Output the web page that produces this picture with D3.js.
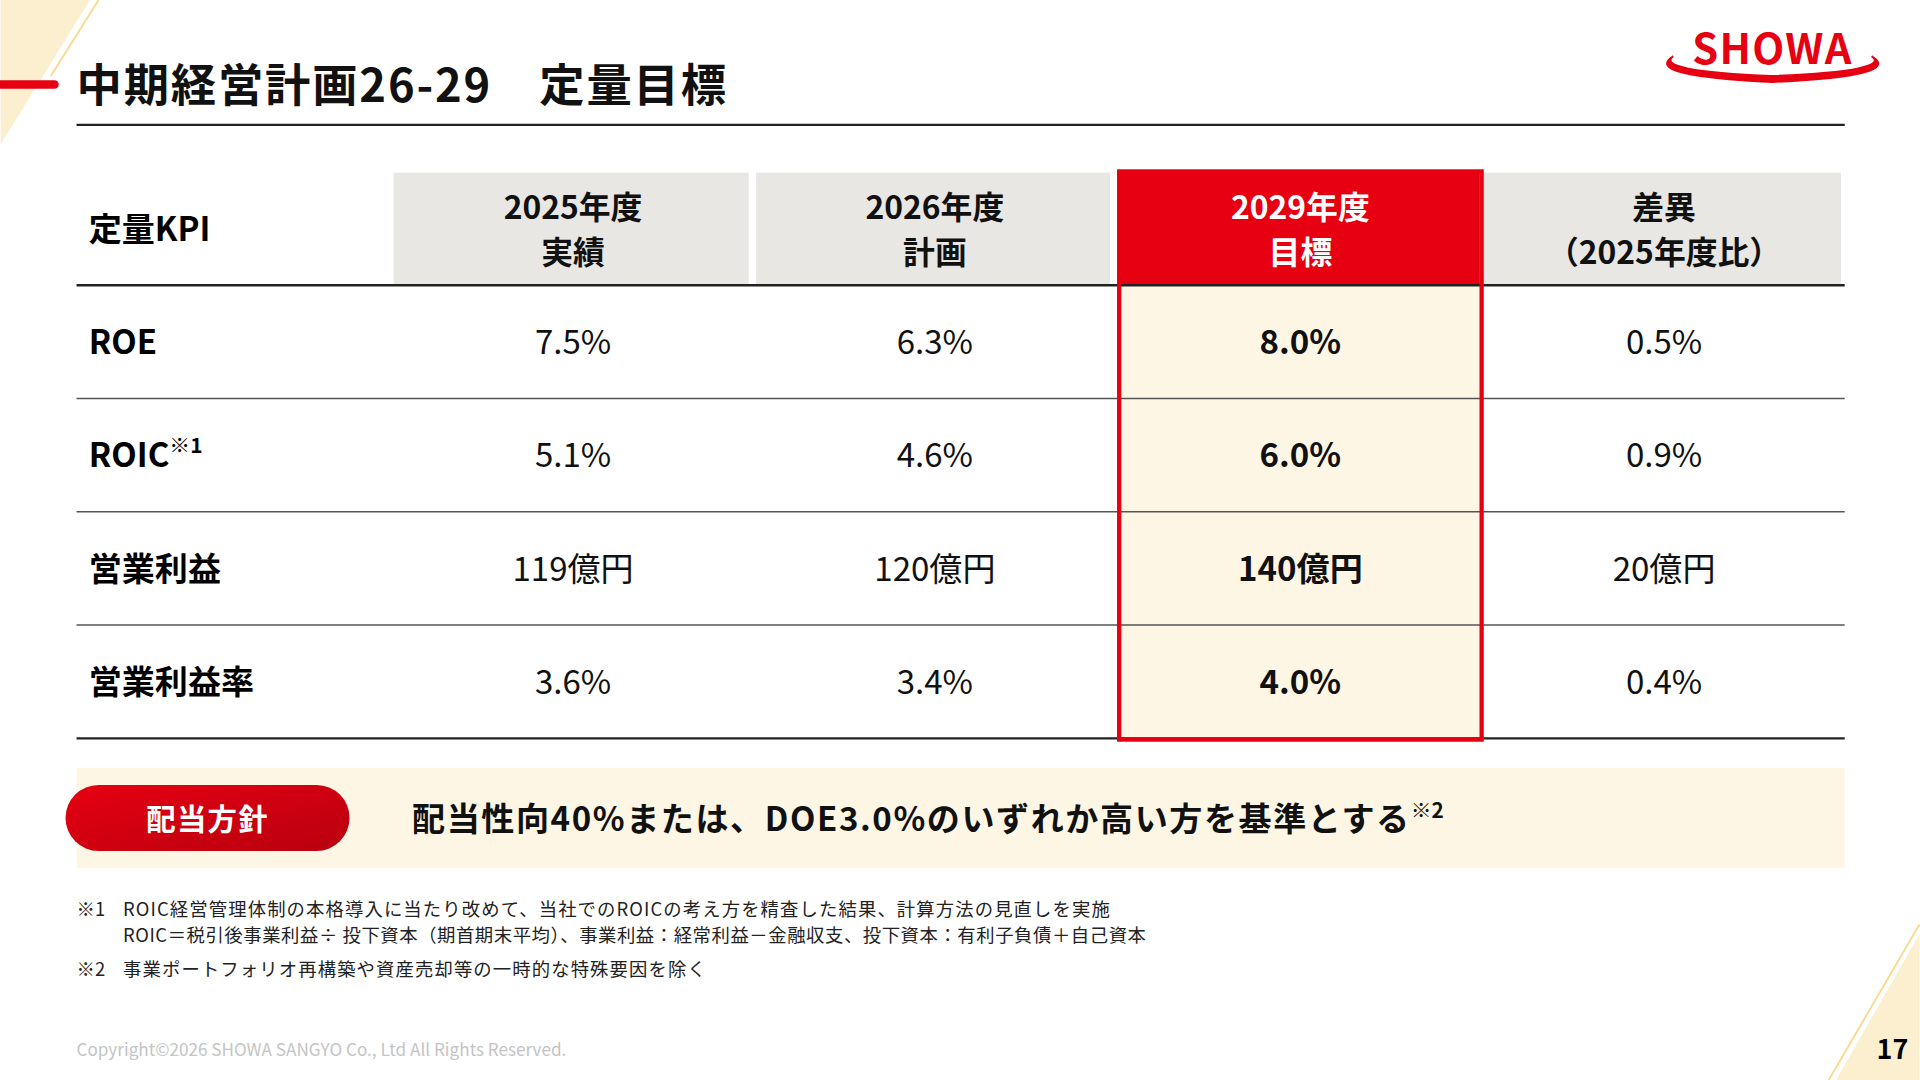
<!DOCTYPE html>
<html><head><meta charset="utf-8">
<script src="https://cdn.jsdelivr.net/npm/d3@7"></script>
<style>body{margin:0;background:#fff}svg{display:block}text{font-family:"Noto Sans CJK JP","Noto Sans",sans-serif}</style>
</head><body>
<div id="chart"></div>
<script>
// table data
var kpis = ["ROE", "ROIC", "営業利益", "営業利益率"];
var headers = [["2025年度", "実績"], ["2026年度", "計画"], ["2029年度", "目標"], ["差異", "（2025年度比）"]];
var actual2025 = ["7.5%", "5.1%", "119億円", "3.6%"];
var plan2026 = ["6.3%", "4.6%", "120億円", "3.4%"];
var target2029 = ["8.0%", "6.0%", "140億円", "4.0%"];
var diff = ["0.5%", "0.9%", "20億円", "0.4%"];
var columns = [actual2025, plan2026, target2029, diff];
var footnotes = [
  ["※1", "ROIC経営管理体制の本格導入に当たり改めて、当社でのROICの考え方を精査した結果、計算方法の見直しを実施"],
  ["", "ROIC＝税引後事業利益÷ 投下資本（期首期末平均）、事業利益：経常利益－金融収支、投下資本：有利子負債＋自己資本"],
  ["※2", "事業ポートフォリオ再構築や資産売却等の一時的な特殊要因を除く"]
];

var W = 1567, H = 882;
var red = "#e60012", cream = "#fdf6e5", beige = "#fcefcf";

var svg = d3.select("#chart").append("svg")
  .attr("width", 1920).attr("height", 1080)
  .attr("viewBox", `0 0 ${W} ${H}`);

var defs = svg.append("defs");
var grad = defs.append("linearGradient").attr("id", "pill").attr("x1", 0).attr("y1", 0).attr("x2", 1).attr("y2", 1);
grad.append("stop").attr("offset", "0%").attr("stop-color", "#e60012");
grad.append("stop").attr("offset", "100%").attr("stop-color", "#b8000f");

// decorations
svg.append("polygon").attr("points", "0,0 73,0 0,118").attr("fill", beige);
svg.append("line").attr("x1", 80).attr("y1", 0).attr("x2", 41).attr("y2", 62).attr("stroke", "#fbd98c").attr("stroke-width", 1.5);
svg.append("polygon").attr("points", `${W},763 ${W},${H} 1499,${H}`).attr("fill", beige);
svg.append("line").attr("x1", W).attr("y1", 755).attr("x2", 1493).attr("y2", H).attr("stroke", "#fbd98c").attr("stroke-width", 1.5);
svg.append("line").attr("x1", -5).attr("y1", 69).attr("x2", 44).attr("y2", 69)
  .attr("stroke", red).attr("stroke-width", 7).attr("stroke-linecap", "round");

svg.append("text").attr("x", 62).attr("y", 83).attr("font-size", 37).attr("font-weight", 700).attr("fill", "#111")
  .attr("letter-spacing", 1.5).text("中期経営計画26-29　定量目標");
svg.append("line").attr("x1", 62).attr("x2", 1506).attr("y1", 102).attr("y2", 102).attr("stroke", "#222").attr("stroke-width", 2);

// logo
svg.append("text").attr("x", 1447).attr("y", 52).attr("text-anchor", "middle")
  .attr("font-family", "Liberation Sans, Arial").attr("font-size", 34).attr("font-weight", 700).attr("fill", red)
  .attr("letter-spacing", 1).text("SHOWA");
svg.append("path").attr("d", "M1366,46 Q1340,62 1447,67 Q1555,62 1528,46 Q1545,58 1447,62 Q1350,58 1366,46 Z")
  .attr("fill", red).attr("stroke", red).attr("stroke-width", 1.5);

// table
var x = d3.scaleOrdinal().domain([0, 1, 2, 3]).range([321, 617, 912, 1211]);
var colW = [293, 292, 299, 295];
var y = d3.scaleBand().domain(kpis).range([233, 603]);
var hTop = 141, hBot = 233;

svg.append("rect").attr("x", x(2)).attr("y", hBot).attr("width", colW[2]).attr("height", 370).attr("fill", cream);

svg.selectAll(".hdr").data(headers).enter().append("rect")
  .attr("x", (d, i) => x(i)).attr("y", hTop).attr("width", (d, i) => colW[i] - 3).attr("height", hBot - hTop)
  .attr("fill", (d, i) => i === 2 ? red : "#e8e7e3");

svg.selectAll(".hdrt").data(headers).enter().append("text")
  .attr("x", (d, i) => x(i) + colW[i] / 2).attr("text-anchor", "middle")
  .attr("font-size", 26).attr("font-weight", 700).attr("fill", (d, i) => i === 2 ? "#fff" : "#111")
  .each(function (d) {
    d3.select(this).selectAll("tspan").data(d).enter().append("tspan")
      .attr("x", d3.select(this).attr("x")).attr("y", (t, j) => 179 + j * 37).text(t => t);
  });

svg.append("text").attr("x", 72).attr("y", 197).attr("font-size", 27).attr("font-weight", 700).text("定量KPI");

kpis.forEach(function (k, r) {
  var cy = y(k) + y.bandwidth() / 2 + 10;
  var t = svg.append("text").attr("x", 72).attr("y", cy).attr("font-size", 27).attr("font-weight", 700).text(k);
  if (k === "ROIC") t.append("tspan").attr("font-size", 17).attr("dy", -12).text("※1");
  columns.forEach(function (c, i) {
    svg.append("text").attr("x", x(i) + colW[i] / 2).attr("y", cy).attr("text-anchor", "middle")
      .attr("font-size", 27).attr("font-weight", i === 2 ? 700 : 400).attr("fill", "#111").text(c[r]);
  });
});

var lines = [hBot].concat(kpis.map(k => y(k) + y.bandwidth()));
svg.selectAll(".rl").data(lines).enter().append("line")
  .attr("x1", 62).attr("x2", 1506).attr("y1", d => d).attr("y2", d => d)
  .attr("stroke", (d, i) => i === 0 || i === 4 ? "#222" : "#555").attr("stroke-width", (d, i) => i === 0 || i === 4 ? 2 : 1.2);

svg.append("rect").attr("x", x(2) + 1.5).attr("y", 140).attr("width", colW[2] - 3).attr("height", 464)
  .attr("fill", "none").attr("stroke", red).attr("stroke-width", 3.5);

// dividend policy
svg.append("rect").attr("x", 62).attr("y", 627).attr("width", 1444).attr("height", 82).attr("fill", cream);
svg.append("rect").attr("x", 53).attr("y", 641).attr("width", 232).attr("height", 54).attr("rx", 27).attr("fill", "url(#pill)");
svg.append("text").attr("x", 169).attr("y", 678).attr("text-anchor", "middle").attr("font-size", 24).attr("font-weight", 700)
  .attr("fill", "#fff").attr("letter-spacing", 1).text("配当方針");
var pt = svg.append("text").attr("x", 336).attr("y", 679).attr("font-size", 27).attr("font-weight", 700).attr("fill", "#111")
  .attr("letter-spacing", 1.3).text("配当性向40%または、DOE3.0%のいずれか高い方を基準とする");
pt.append("tspan").attr("font-size", 17).attr("dy", -11).attr("letter-spacing", 0).text("※2");

// footnotes
svg.selectAll(".fn").data(footnotes).enter().append("g").each(function (d, i) {
  var g = d3.select(this), yy = [748, 769, 797][i];
  g.append("text").attr("x", 62).attr("y", yy).attr("font-size", 15).attr("fill", "#222").text(d[0]);
  g.append("text").attr("x", 100).attr("y", yy).attr("font-size", 15).attr("fill", "#222")
    .attr("letter-spacing", i === 1 ? 0.45 : 0.9).text(d[1]);
});

svg.append("text").attr("x", 62).attr("y", 862).attr("font-size", 14).attr("fill", "#c4c4c4")
  .text("Copyright©2026 SHOWA SANGYO Co., Ltd All Rights Reserved.");
svg.append("text").attr("x", 1545).attr("y", 865).attr("text-anchor", "middle").attr("font-size", 22).attr("font-weight", 700)
  .attr("font-family", "Liberation Sans, Arial").text("17");
</script>
</body></html>
